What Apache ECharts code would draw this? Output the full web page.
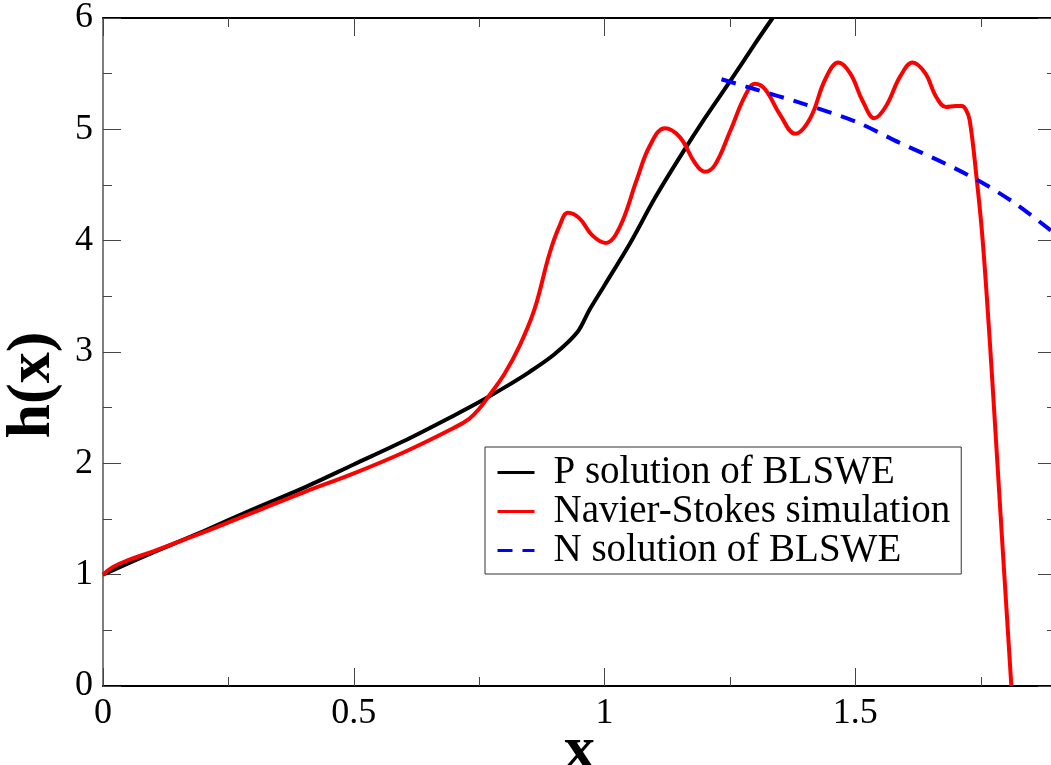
<!DOCTYPE html>
<html>
<head>
<meta charset="utf-8">
<script src="https://cdn.jsdelivr.net/npm/echarts@6/dist/echarts.min.js"></script>
<style>
  html, body { margin: 0; padding: 0; background: #fff; }
  #chart { width: 1051px; height: 765px; }
</style>
</head>
<body>
<div id="chart"></div>
<script>
// P solution of the BLSWE (black)
const pX = [0, 0.1, 0.2, 0.3, 0.4, 0.5, 0.6, 0.7, 0.75, 0.8, 0.85, 0.9, 0.946, 0.97, 1.0, 1.05, 1.1, 1.15, 1.2, 1.25, 1.3, 1.335];
const pY = [1.0, 1.2, 1.39, 1.59, 1.78, 1.99, 2.2, 2.43, 2.55, 2.68, 2.82, 2.98, 3.18, 3.38, 3.6, 3.97, 4.38, 4.75, 5.1, 5.43, 5.77, 6.0];

// Navier-Stokes simulation (red)
const nsX = [0, 0.02, 0.05, 0.1, 0.2, 0.25, 0.3, 0.4, 0.5, 0.6, 0.7, 0.73, 0.75, 0.77, 0.8, 0.83, 0.86, 0.89, 0.91, 0.927, 0.95, 0.975, 1.002, 1.03, 1.064, 1.09, 1.12, 1.15, 1.18, 1.2, 1.22, 1.25, 1.28, 1.3, 1.32, 1.35, 1.38, 1.41, 1.44, 1.466, 1.49, 1.515, 1.538, 1.56, 1.59, 1.614, 1.64, 1.66, 1.681, 1.70, 1.712, 1.72, 1.728, 1.742, 1.752, 1.762, 1.775, 1.79, 1.811];
const nsY = [1.0, 1.07, 1.13, 1.21, 1.38, 1.47, 1.56, 1.74, 1.91, 2.1, 2.32, 2.4, 2.49, 2.61, 2.8, 3.05, 3.38, 3.88, 4.13, 4.25, 4.2, 4.05, 3.98, 4.12, 4.545, 4.85, 5.01, 4.93, 4.70, 4.62, 4.68, 4.98, 5.3, 5.41, 5.36, 5.13, 4.96, 5.1, 5.45, 5.6, 5.5, 5.25, 5.1, 5.2, 5.48, 5.6, 5.5, 5.3, 5.2, 5.21, 5.21, 5.18, 5.08, 4.55, 4.1, 3.5, 2.6, 1.5, 0.0];

// N solution of the BLSWE (blue, dashed)
const nX = [1.233, 1.3, 1.389, 1.5, 1.588, 1.68, 1.753, 1.82, 1.89, 1.9];
const nY = [5.45, 5.36, 5.24, 5.07, 4.88, 4.69, 4.52, 4.33, 4.09, 4.05];

// Axis ranges and tick steps
const xRange = [0, 1.9];
const yRange = [0, 6];
const xStep = 0.5;
const yStep = 1;

const seriesNames = ['P solution of BLSWE', 'Navier-Stokes simulation', 'N solution of BLSWE'];

const zip = (xs, ys) => xs.map((x, i) => [x, ys[i]]);

const serif = '"Liberation Serif", "DejaVu Serif", serif';

const tickLabelFmt = v => {
  if (Math.abs(v) < 1e-9) return '0';
  return String(Math.round(v * 100) / 100);
};

const baseAxis = {
  axisLine: { show: true, onZero: false, lineStyle: { color: '#000', width: 2 } },
  axisTick: { show: true, inside: true, length: 18, lineStyle: { color: '#444', width: 1 } },
  minorTick: { show: true, splitNumber: 2, length: 9, lineStyle: { color: '#444', width: 1 } },
  splitLine: { show: false },
  minorSplitLine: { show: false }
};

const chart = echarts.init(document.getElementById('chart'), null, { renderer: 'canvas' });

chart.setOption({
  backgroundColor: '#fff',
  animation: false,
  grid: { left: 103, top: 18, width: 953, height: 668, containLabel: false, outerBoundsMode: 'none' },
  xAxis: [
    Object.assign({}, baseAxis, {
      type: 'value', position: 'bottom', min: xRange[0], max: xRange[1], interval: xStep,
      name: 'x', nameLocation: 'middle', nameGap: 35, nameMoveOverlap: false,
      nameTextStyle: { fontFamily: serif, fontSize: 62, fontWeight: 'bold', color: '#000' },
      axisLabel: { show: true, margin: 10, fontFamily: serif, fontSize: 36, color: '#000', formatter: tickLabelFmt, showMaxLabel: false }
    }),
    Object.assign({}, baseAxis, {
      type: 'value', position: 'top', min: xRange[0], max: xRange[1], interval: xStep,
      axisLabel: { show: false }
    })
  ],
  yAxis: [
    Object.assign({}, baseAxis, {
      type: 'value', position: 'left', min: yRange[0], max: yRange[1], interval: yStep,
      axisLine: { show: true, onZero: false, lineStyle: { color: '#555', width: 1.5 } },
      name: 'h(x)', nameLocation: 'middle', nameGap: 38,
      nameTextStyle: { fontFamily: serif, fontSize: 62, fontWeight: 'bold', color: '#000', padding: [0, 66, 0, 0] },
      axisLabel: { show: true, margin: 10, fontFamily: serif, fontSize: 36, color: '#000', formatter: tickLabelFmt }
    }),
    Object.assign({}, baseAxis, {
      type: 'value', position: 'right', min: yRange[0], max: yRange[1], interval: yStep,
      axisLabel: { show: false }
    })
  ],
  legend: {
    orient: 'vertical',
    left: 485, top: 447,
    padding: [6, 11, 4, 11],
    itemGap: 0,
    itemWidth: 37, itemHeight: 14,
    backgroundColor: '#fff',
    borderColor: '#333', borderWidth: 1, borderRadius: 0,
    lineStyle: { width: 3 },
    itemStyle: { opacity: 0 },
    textStyle: { fontFamily: serif, fontSize: 39, color: '#000', lineHeight: 37, padding: [0, 0, 0, 14] },
    data: seriesNames
  },
  series: [
    {
      name: seriesNames[0], type: 'line', data: zip(pX, pY),
      symbol: 'none', smooth: 0.3, clip: true,
      lineStyle: { color: '#000', width: 4 }, itemStyle: { color: '#000' }, z: 2
    },
    {
      name: seriesNames[1], type: 'line', data: zip(nsX, nsY),
      symbol: 'none', smooth: 0.4, clip: true,
      lineStyle: { color: '#ff0000', width: 4 }, itemStyle: { color: '#ff0000' }, z: 3
    },
    {
      name: seriesNames[2], type: 'line', data: zip(nX, nY),
      symbol: 'none', smooth: 0.3, clip: true,
      lineStyle: { color: '#0000ff', width: 4, type: [15, 10] }, itemStyle: { color: '#0000ff' }, z: 4
    }
  ]
});
</script>
</body>
</html>
